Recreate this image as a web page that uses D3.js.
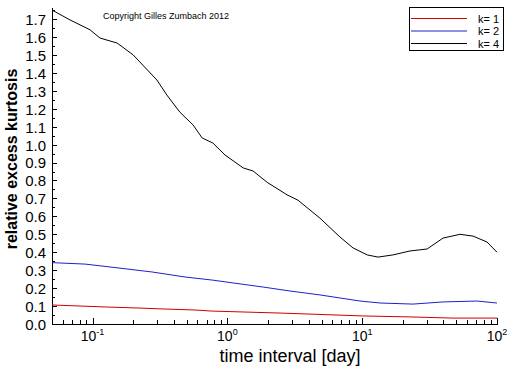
<!DOCTYPE html>
<html>
<head>
<meta charset="utf-8">
<script src="https://cdn.jsdelivr.net/npm/d3@7"></script>
<style>
  body { margin: 0; background: #fff; }
  svg text { font-family: "Liberation Sans", Arial, sans-serif; fill: #000; }
</style>
</head>
<body>
<svg id="chart" width="512" height="366"></svg>
<script>
(function() {
  // time interval [day] and relative excess kurtosis
  var k1Days = [0.05, 0.124, 0.221, 0.327, 0.575, 0.77, 2.46, 10.1, 23.8, 47.2, 100];
  var k1Vals = [0.106, 0.095, 0.089, 0.084, 0.078, 0.072, 0.061, 0.045, 0.039, 0.033, 0.033];

  var k2Days = [0.05, 0.088, 0.157, 0.276, 0.485, 0.77, 1.84, 2.91, 4.86, 9.64, 13.6, 23.8, 39.8, 71, 100];
  var k2Vals = [0.342, 0.334, 0.312, 0.29, 0.262, 0.245, 0.206, 0.184, 0.162, 0.128, 0.117, 0.111, 0.123, 0.128, 0.117];

  var k4Days = [0.05, 0.068, 0.0957, 0.1135, 0.152, 0.2, 0.3, 0.356, 0.445, 0.556, 0.65, 0.78, 0.96,
    1.31, 1.55, 1.97, 2.77, 3.34, 4.86, 6.84, 8.55, 10.9, 13.1, 16.9, 22.6, 30.3, 39.8, 53.2, 66.4, 84.3, 100];
  var k4Vals = [1.75, 1.695, 1.64, 1.594, 1.566, 1.50, 1.36, 1.276, 1.18, 1.11, 1.037, 1.009, 0.942,
    0.87, 0.853, 0.79, 0.72, 0.69, 0.59, 0.485, 0.424, 0.385, 0.373, 0.385, 0.407, 0.418, 0.479, 0.50, 0.49, 0.457, 0.40];

  var seriesNames = ["k= 1", "k= 2", "k= 4"];
  var seriesColors = ["#d00000", "#2020c8", "#000000"];

  var yTicks = d3.range(0, 18).map(function(i) { return i / 10; });
  var yMinor = d3.range(0, 36).map(function(i) { return i / 20; });
  var xMajor = [0.1, 1, 10, 100];
  var xExp = ["-1", "0", "1", "2"];

  var series = [
    { name: seriesNames[0], color: seriesColors[0], pts: d3.zip(k1Days, k1Vals) },
    { name: seriesNames[1], color: seriesColors[1], pts: d3.zip(k2Days, k2Vals) },
    { name: seriesNames[2], color: seriesColors[2], pts: d3.zip(k4Days, k4Vals) }
  ];

  var left = 52, right = 497, top = 7, bottom = 324;

  var x = d3.scaleLog().domain([0.05, 100]).range([left, right]);
  var y = d3.scaleLinear().domain([0, 1.767]).range([bottom, top]);

  var svg = d3.select("#chart");

  var xMinor = [];
  [0.01, 0.1, 1, 10].forEach(function(dec) {
    for (var m = 2; m <= 9; m++) {
      var v = dec * m;
      if (v >= 0.05 && v <= 100) xMinor.push(v);
    }
  });

  // minor ticks first, then major axes on top
  svg.append("g").attr("transform", "translate(" + left + ",0)")
    .call(d3.axisLeft(y).tickValues(yMinor).tickSize(-3).tickSizeOuter(0).tickFormat(""))
    .call(function(g) { g.select(".domain").remove(); });

  svg.append("g").attr("transform", "translate(0," + bottom + ")")
    .call(d3.axisBottom(x).tickValues(xMinor).tickSize(-4).tickSizeOuter(0).tickFormat(""))
    .call(function(g) { g.select(".domain").remove(); });

  var yAxis = svg.append("g").attr("transform", "translate(" + left + ",0)")
    .call(d3.axisLeft(y).tickValues(yTicks).tickSize(-5).tickSizeOuter(0)
      .tickFormat(d3.format(".1f")));
  yAxis.selectAll("text").attr("x", -6).style("font-size", "15px").attr("dy", "0.36em");

  var xAxis = svg.append("g").attr("transform", "translate(0," + bottom + ")")
    .call(d3.axisBottom(x).tickValues(xMajor).tickSize(-6).tickSizeOuter(0).tickFormat(""));

  svg.selectAll("g path.domain, g .tick line").attr("stroke", "#000").attr("shape-rendering", "crispEdges");

  // 10^n labels
  var xl = svg.append("g").selectAll("text").data(xMajor).enter().append("text")
    .attr("x", function(d) { return x(d); })
    .attr("y", 341)
    .attr("text-anchor", "middle")
    .style("font-size", "14px");
  xl.append("tspan").text("10");
  xl.append("tspan").attr("dy", -6).style("font-size", "9px").text(function(d, i) { return xExp[i]; });

  var line = d3.line()
    .x(function(p) { return x(p[0]); })
    .y(function(p) { return y(p[1]); });

  svg.append("g").selectAll("path").data(series).enter().append("path")
    .attr("d", function(s) { return line(s.pts); })
    .attr("fill", "none")
    .attr("stroke", function(s) { return s.color; })
    .attr("stroke-width", 1);

  // axis titles
  svg.append("text").attr("x", 290).attr("y", 362).attr("text-anchor", "middle")
    .style("font-size", "18px").text("time interval [day]");

  svg.append("text").attr("transform", "translate(17,159) rotate(-90)").attr("text-anchor", "middle")
    .style("font-size", "16px").style("font-weight", "bold").text("relative excess kurtosis");

  svg.append("text").attr("x", 103).attr("y", 19).style("font-size", "9px")
    .text("Copyright Gilles Zumbach 2012");

  // legend
  var lg = svg.append("g");
  lg.append("rect").attr("x", 409.5).attr("y", 7.5).attr("width", 94).attr("height", 43)
    .attr("fill", "#fff").attr("stroke", "#000");
  var items = lg.selectAll("g.item").data(series).enter().append("g").classed("item", true)
    .attr("transform", function(s, i) { return "translate(0," + (18 + i * 12.5) + ")"; });
  items.append("line").attr("x1", 411).attr("x2", 467).attr("y1", 0.5).attr("y2", 0.5)
    .attr("stroke", function(s) { return s.color; });
  items.append("text").attr("x", 478).attr("y", 4.5).style("font-size", "11px")
    .text(function(s) { return s.name; });
})();
</script>
</body>
</html>
